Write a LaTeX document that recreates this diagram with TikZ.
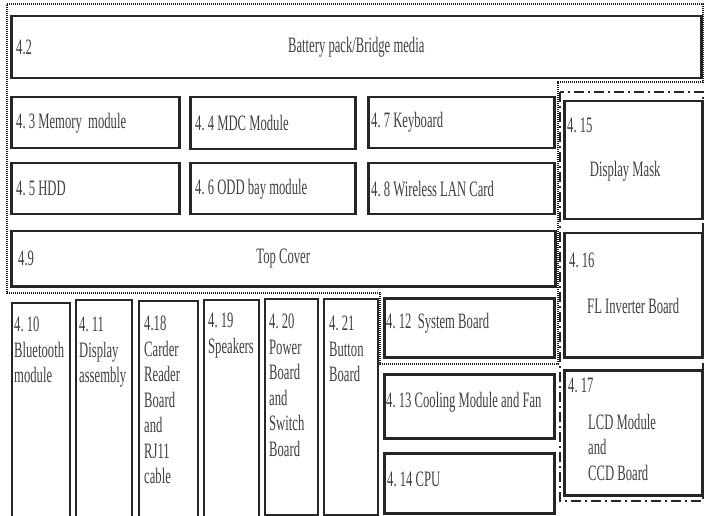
\documentclass[tikz,border=0pt]{standalone}
\usepackage{fontspec}
\setmainfont{Liberation Serif}[FakeStretch=0.575]
\usetikzlibrary{positioning}
\frenchspacing
\newcommand{\cond}{\fontsize{22}{25.5}\selectfont}
\tikzset{
  part/.style={draw=black!85, line width=2.5pt, anchor=north west, inner sep=0pt},
  slim/.style={part, line width=1.8pt},
  lbl/.style={text=black!75, font=\cond, inner sep=0pt},
}

\begin{document}
\begin{tikzpicture}[
  x=1pt, y=-1pt,
  grp/.style={draw=black!90, line width=2.2pt, dash pattern=on 1.2pt off 0.8pt},
  dsp/.style={draw=black!85, line width=2.5pt, dash pattern=on 10pt off 4pt on 2pt off 4pt}
]
\useasboundingbox (0,0) rectangle (705,516);
\clip (0,0) rectangle (705,516);

% group outlines
\draw[grp] (7,4) -- (703,4) -- (703,82) -- (558,82) -- (558,364)
  -- (380,364) -- (380,293) -- (7,293) -- cycle;
\draw[dsp] (560,92) rectangle (703,501);

% top block
\node[part, minimum width=690pt, minimum height=62pt] (b42) at (10,15) {};
\node[lbl, right=6pt of b42.west] (n42a) {4.2};
\node[lbl] (n42) at (b42.center) {Battery pack/Bridge media};

\node[part, minimum width=168pt, minimum height=51pt] (b43) at (10,96) {};
\node[part, minimum width=165pt, minimum height=52pt] (b44) at (189,96) {};
\node[part, minimum width=186pt, minimum height=51pt] (b47) at (367,96) {};
\node[lbl, right=6pt of b43.west] (n43) {4. 3 Memory~ module};
\node[lbl, right=6pt of b44.west] (n44) {4. 4 MDC Module};
\node[lbl, right=4pt of b47.west, yshift=1pt] (n47) {4. 7 Keyboard};

\node[part, minimum width=168pt, minimum height=51pt] (b45) at (10,162) {};
\node[part, minimum width=165pt, minimum height=51pt] (b46) at (189,162) {};
\node[part, minimum width=186pt, minimum height=51pt] (b48) at (367,162) {};
\node[lbl, right=6pt of b45.west] (n45) {4. 5 HDD};
\node[lbl, right=6pt of b46.west] (n46) {4. 6 ODD bay module};
\node[lbl, right=4pt of b48.west] (n48) {4. 8 Wireless LAN Card};

\node[part, minimum width=544pt, minimum height=55pt] (b49) at (10,230) {};
\node[lbl, right=8pt of b49.west] (n49a) {4.9};
\node[lbl] (n49) at (b49.center) {Top Cover};

% narrow boxes
\node[slim, minimum width=58pt, minimum height=222pt] (b410) at (11,302) {};
\node[slim, minimum width=56pt, minimum height=225pt] (b411) at (75,299) {};
\node[slim, minimum width=59pt, minimum height=224pt] (b418) at (138,300) {};
\node[slim, minimum width=55pt, minimum height=225pt] (b419) at (203,299) {};
\node[slim, minimum width=53pt, minimum height=216pt] (b420) at (264,298) {};
\node[slim, minimum width=54pt, minimum height=216pt] (b421) at (323,298) {};
\node[lbl, align=left, below right=15pt and 3pt of b410.north west] (n410) {4. 10\\Bluetooth\\module};
\node[lbl, align=left, below right=18pt and 4pt of b411.north west] (n411) {4. 11\\Display\\assembly};
\node[lbl, align=left, below right=16pt and 6pt of b418.north west] (n418) {4.18\\Carder\\Reader\\Board\\and\\RJ11\\cable};
\node[lbl, align=left, below right=14pt and 5pt of b419.north west] (n419) {4. 19\\Speakers};
\node[lbl, align=left, below right=16pt and 5pt of b420.north west] (n420) {4. 20\\Power\\Board\\and\\Switch\\Board};
\node[lbl, align=left, below right=18pt and 6pt of b421.north west] (n421) {4. 21\\Button\\Board};

% right column
\node[part, minimum width=170pt, minimum height=59pt] (b412) at (383,297) {};
\node[part, minimum width=170pt, minimum height=64pt] (b413) at (383,373) {};
\node[part, minimum width=170pt, minimum height=60pt] (b414) at (383,452) {};
\node[lbl, right=3pt of b412.west, yshift=5pt] (n412) {4. 12~ System Board};
\node[lbl, right=3pt of b413.west, yshift=4pt] (n413) {4. 13 Cooling Module and Fan};
\node[lbl, right=4pt of b414.west, yshift=4pt] (n414) {4. 14 CPU};

% display side
\node[part, minimum width=138pt, minimum height=118pt] (b415) at (563,100) {};
\node[part, minimum width=138pt, minimum height=124pt] (b416) at (563,232) {};
\node[part, minimum width=138pt, minimum height=125pt] (b417) at (563,369) {};
\node[lbl, below right=18pt and 4pt of b415.north west] (n415a) {4. 15};
\node[lbl] (n415) at ([xshift=-8pt, yshift=-11pt]b415.center) {Display Mask};
\node[lbl, below right=21pt and 6pt of b416.north west] (n416a) {4. 16};
\node[lbl] (n416) at ([yshift=-11pt]b416.center) {FL Inverter Board};
\node[lbl, below right=9pt and 5pt of b417.north west] (n417a) {4. 17};
\node[lbl, align=left, below right=45pt and 25pt of b417.north west] (n417) {LCD Module\\and\\CCD Board};
\end{tikzpicture}
\end{document}
